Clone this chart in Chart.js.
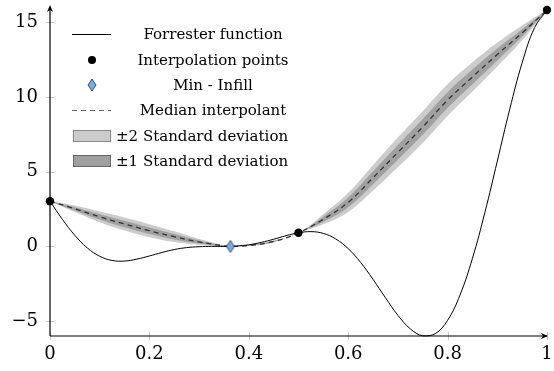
<!DOCTYPE html>
<html>
<head>
<meta charset="utf-8">
<script src="https://cdn.jsdelivr.net/npm/chart.js@4.4.1/dist/chart.umd.min.js"></script>
<style>
  html, body { margin: 0; padding: 0; background: #fff; }
  #wrap { width: 554px; height: 371px; position: relative; }
</style>
</head>
<body>
<div id="wrap"><canvas id="chart"></canvas></div>
<script>
// ----- data -----
const forresterX = [0, 0.025, 0.05, 0.075, 0.1, 0.125, 0.15, 0.175, 0.2, 0.225, 0.25, 0.275, 0.3, 0.325, 0.35, 0.375,
  0.4, 0.425, 0.45, 0.475, 0.5, 0.525, 0.55, 0.575, 0.6, 0.625, 0.65, 0.675, 0.7, 0.725, 0.75, 0.775,
  0.8, 0.825, 0.85, 0.875, 0.9, 0.925, 0.95, 0.975, 1];
const forresterY = [3.03, 1.81, 0.74, -0.10, -0.66, -0.94, -0.98, -0.85, -0.64, -0.41, -0.21, -0.08, -0.02, 0.00, 0.00, 0.03,
  0.11, 0.27, 0.48, 0.72, 0.91, 0.99, 0.87, 0.50, -0.15, -1.07, -2.21, -3.44, -4.61, -5.52, -5.99, -5.85,
  -4.95, -3.25, -0.80, 2.27, 5.71, 9.19, 12.30, 14.65, 15.83];

const sampleX = [0, 0.5, 1];
const sampleY = [3.03, 0.91, 15.83];

const infillX = [0.363];
const infillY = [0.0];

const medianX = [0, 0.05, 0.1, 0.15, 0.2, 0.25, 0.3, 0.35, 0.363, 0.4, 0.45, 0.5, 0.55, 0.6, 0.65, 0.7, 0.75, 0.8, 0.85, 0.9, 0.95, 1];
const medianY = [3.03, 2.52, 1.98, 1.50, 1.05, 0.65, 0.30, 0.04, 0.0, 0.06, 0.33, 0.91, 1.82, 2.95, 4.6, 6.3, 8.0, 9.8, 11.35, 12.85, 14.3, 15.83];
const stdDev  = [0, 0.11, 0.18, 0.22, 0.22, 0.18, 0.10, 0.02, 0, 0.02, 0.03, 0, 0.17, 0.32, 0.43, 0.5, 0.53, 0.53, 0.49, 0.4, 0.25, 0];

const xTicks = [0, 0.2, 0.4, 0.6, 0.8, 1];
const yTicks = [-5, 0, 5, 10, 15];

const legendLabels = ['Forrester function', 'Interpolation points', 'Min - Infill', 'Median interpolant',
  '\u00b12 Standard deviation', '\u00b11 Standard deviation'];

// ----- helpers -----
const pts = (xs, ys) => xs.map((x, i) => ({ x: x, y: ys[i] }));
const band = k => ({
  hi: medianX.map((x, i) => ({ x: x, y: medianY[i] + k * stdDev[i] })),
  lo: medianX.map((x, i) => ({ x: x, y: medianY[i] - k * stdDev[i] }))
});
const band1 = band(1), band2 = band(2);

const SERIF = "'DejaVu Serif', 'Liberation Serif', serif";
const OUTER = 'rgb(204,204,204)';
const INNER = 'rgb(160,160,160)';
const MEDIAN = '#333';

// diamond marker
const diamond = document.createElement('canvas');
diamond.width = 10; diamond.height = 14;
(() => {
  const c = diamond.getContext('2d');
  c.beginPath();
  c.moveTo(5, 1); c.lineTo(9, 7); c.lineTo(5, 13); c.lineTo(1, 7); c.closePath();
  c.fillStyle = '#7eaad8'; c.fill();
  c.strokeStyle = '#33506e'; c.lineWidth = 1; c.stroke();
})();

// axis lines with arrows + little grey ticks
const axesPlugin = {
  id: 'axes',
  beforeDatasetsDraw(chart) {
    const { ctx, chartArea: a, scales } = chart;
    ctx.save();
    ctx.strokeStyle = '#c8c8c8';
    ctx.lineWidth = 1;
    yTicks.forEach(v => {
      const y = Math.round(scales.y.getPixelForValue(v)) + 0.5;
      ctx.beginPath(); ctx.moveTo(a.left - 4, y); ctx.lineTo(a.left + 4, y); ctx.stroke();
    });
    xTicks.forEach(v => {
      const x = Math.round(scales.x.getPixelForValue(v)) + 0.5;
      ctx.beginPath(); ctx.moveTo(x, a.bottom - 4); ctx.lineTo(x, a.bottom + 4); ctx.stroke();
    });
    ctx.restore();
  },
  afterDatasetsDraw(chart) {
    const { ctx, chartArea: a } = chart;
    ctx.save();
    ctx.strokeStyle = '#000';
    ctx.fillStyle = '#000';
    ctx.lineWidth = 1.2;
    const x0 = a.left, y0 = a.bottom;
    ctx.beginPath(); ctx.moveTo(x0, y0); ctx.lineTo(x0, a.top - 1); ctx.stroke();
    ctx.beginPath(); ctx.moveTo(x0, y0); ctx.lineTo(a.right, y0); ctx.stroke();
    // arrow heads
    ctx.beginPath();
    ctx.moveTo(x0, a.top - 4); ctx.lineTo(x0 - 3, a.top + 3); ctx.lineTo(x0, a.top + 1); ctx.lineTo(x0 + 3, a.top + 3);
    ctx.closePath(); ctx.fill();
    ctx.beginPath();
    ctx.moveTo(a.right + 1, y0); ctx.lineTo(a.right - 6, y0 - 3); ctx.lineTo(a.right - 4, y0); ctx.lineTo(a.right - 6, y0 + 3);
    ctx.closePath(); ctx.fill();
    ctx.restore();
  }
};

// legend drawn in the upper left like the original
const legendPlugin = {
  id: 'texLegend',
  afterDraw(chart) {
    const ctx = chart.ctx;
    const rows = [34, 60, 85, 110, 136, 161];
    ctx.save();
    ctx.font = '15px ' + SERIF;
    ctx.fillStyle = '#000';
    ctx.textBaseline = 'middle';
    // symbols
    ctx.strokeStyle = '#000'; ctx.lineWidth = 1;
    ctx.beginPath(); ctx.moveTo(72, rows[0] + 0.5); ctx.lineTo(111, rows[0] + 0.5); ctx.stroke();
    ctx.beginPath(); ctx.arc(92, rows[1], 4, 0, Math.PI * 2); ctx.fill();
    ctx.drawImage(diamond, 87, rows[2] - 7);
    ctx.strokeStyle = '#666'; ctx.setLineDash([5, 4]);
    ctx.beginPath(); ctx.moveTo(72, rows[3] + 0.5); ctx.lineTo(111, rows[3] + 0.5); ctx.stroke();
    ctx.setLineDash([]);
    [[rows[4], OUTER, '#888'], [rows[5], INNER, '#666']].forEach(([y, fill, edge]) => {
      ctx.fillStyle = fill; ctx.fillRect(73, y - 6, 38, 12);
      ctx.strokeStyle = edge; ctx.strokeRect(73.5, y - 5.5, 37, 11);
    });
    // texts
    ctx.fillStyle = '#000';
    ctx.textAlign = 'center';
    for (let i = 0; i < 4; i++) ctx.fillText(legendLabels[i], 213, rows[i] + 1);
    ctx.textAlign = 'left';
    ctx.fillText(legendLabels[4], 116, rows[4] + 1);
    ctx.fillText(legendLabels[5], 116, rows[5] + 1);
    ctx.restore();
  }
};

const noPad = s => { s.paddingLeft = 0; s.paddingRight = 0; s.paddingTop = 0; s.paddingBottom = 0; };

Chart.defaults.font.family = SERIF;
Chart.defaults.color = '#000';

new Chart(document.getElementById('chart'), {
  type: 'line',
  data: {
    datasets: [
      { label: 'sample', type: 'scatter', data: pts(sampleX, sampleY), pointRadius: 4.2, pointBackgroundColor: '#000',
        pointBorderWidth: 0, clip: false, order: 0 },
      { label: 'infill', type: 'scatter', data: pts(infillX, infillY), pointStyle: diamond, pointRadius: 6, clip: false, order: 0 },
      { label: 'forrester', data: pts(forresterX, forresterY), borderColor: '#000', borderWidth: 1, pointRadius: 0,
        tension: 0.4, fill: false, clip: 4, order: 1 },
      { label: 'median', data: pts(medianX, medianY), borderColor: MEDIAN, borderWidth: 1.3, borderDash: [5, 4],
        pointRadius: 0, tension: 0.4, fill: false, clip: 4, order: 2 },
      { label: 'sd1 hi', data: band1.hi, borderWidth: 0, pointRadius: 0, tension: 0.4, fill: '+1', backgroundColor: INNER, clip: 4, order: 3 },
      { label: 'sd1 lo', data: band1.lo, borderWidth: 0, pointRadius: 0, tension: 0.4, fill: false, clip: 4, order: 3 },
      { label: 'sd2 hi', data: band2.hi, borderWidth: 0, pointRadius: 0, tension: 0.4, fill: '+1', backgroundColor: OUTER, clip: 4, order: 4 },
      { label: 'sd2 lo', data: band2.lo, borderWidth: 0, pointRadius: 0, tension: 0.4, fill: false, clip: 4, order: 4 }
    ]
  },
  options: {
    responsive: true,
    maintainAspectRatio: false,
    animation: false,
    layout: { padding: { top: 9, right: 5, left: 0, bottom: 0 } },
    plugins: { legend: { display: false }, tooltip: { enabled: false } },
    scales: {
      x: {
        type: 'linear', min: 0, max: 1,
        afterFit: s => { s.height = 35; noPad(s); },
        afterBuildTicks: s => { s.ticks = xTicks.map(v => ({ value: v })); },
        grid: { display: false, drawTicks: false },
        border: { display: false },
        ticks: { padding: 8, font: { size: 18 }, maxRotation: 0, callback: v => String(v) }
      },
      y: {
        type: 'linear', min: -6, max: 15.9,
        afterFit: s => { s.width = 50; noPad(s); },
        afterBuildTicks: s => { s.ticks = yTicks.map(v => ({ value: v })); },
        grid: { display: false, drawTicks: false },
        border: { display: false },
        ticks: { padding: 12, font: { size: 18 }, callback: v => String(v).replace('-', '\u2212') }
      }
    }
  },
  plugins: [axesPlugin, legendPlugin]
});
</script>
</body>
</html>
